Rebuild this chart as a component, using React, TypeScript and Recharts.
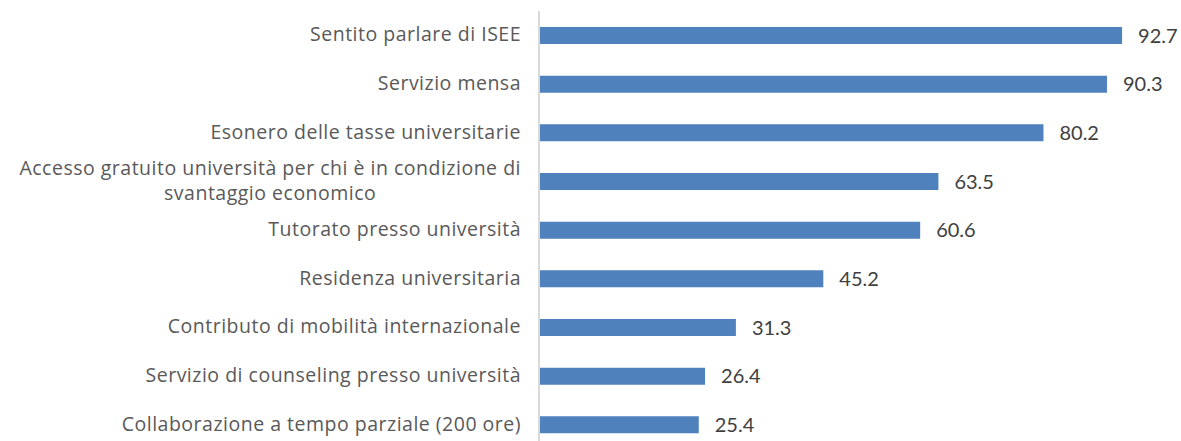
import { BarChart, Bar, XAxis, YAxis, LabelList } from "recharts";

const categories = [
  "Sentito parlare di ISEE",
  "Servizio mensa",
  "Esonero delle tasse universitarie",
  "Accesso gratuito università per chi è in condizione di svantaggio economico",
  "Tutorato presso università",
  "Residenza universitaria",
  "Contributo di mobilità internazionale",
  "Servizio di counseling presso università",
  "Collaborazione a tempo parziale (200 ore)",
];

const values = [92.7, 90.3, 80.2, 63.5, 60.6, 45.2, 31.3, 26.4, 25.4];

// label split lines for the long one (Excel wraps it)
const wrapped: Record<string, string[]> = {
  "Accesso gratuito università per chi è in condizione di svantaggio economico": [
    "Accesso gratuito università per chi è in condizione di",
    "svantaggio economico",
  ],
};

const data = categories.map((name, i) => ({ name, value: values[i] }));

const CAT_FONT = "'Open Sans', Lato, sans-serif";
const VAL_FONT = "Lato, 'Open Sans', sans-serif";
const LABEL_SIZE = 19.5;
const SPACING = 0.5;

function measure(text: string, size: number) {
  const c = document.createElement("canvas").getContext("2d");
  if (!c) return text.length * size * 0.5;
  c.font = `${size}px 'Open Sans'`;
  return c.measureText(text).width + text.length * SPACING;
}

function CategoryTick(props: any) {
  const { x, y, payload } = props;
  const lines = wrapped[payload.value];
  if (!lines) {
    return (
      <text
        x={x}
        y={y}
        dy={6}
        textAnchor="end"
        fill="#595959"
        fontSize={LABEL_SIZE}
        fontFamily={CAT_FONT}
        letterSpacing={SPACING}
      >
        {payload.value}
      </text>
    );
  }
  const w = Math.max(...lines.map((l) => measure(l, LABEL_SIZE)));
  const cx = x - w / 2;
  return (
    <g>
      {lines.map((l, i) => (
        <text
          key={i}
          x={cx}
          y={y - 6 + i * 25}
          textAnchor="middle"
          fill="#595959"
          fontSize={LABEL_SIZE}
          fontFamily={CAT_FONT}
          letterSpacing={SPACING}
        >
          {l}
        </text>
      ))}
    </g>
  );
}

export default function App() {
  return (
    <div style={{ position: "absolute", left: 0, top: 0, width: 1181, height: 441, overflow: "hidden", background: "#fff" }}>
      <BarChart
        width={1181}
        height={460}
        data={data}
        layout="vertical"
        margin={{ top: 11, right: 13, left: 0, bottom: 11 }}
        barCategoryGap={0}
      >
        <XAxis type="number" domain={[0, 100]} hide />
        <YAxis
          type="category"
          dataKey="name"
          width={539}
          axisLine={{ stroke: "#d9d9d9", strokeWidth: 2 }}
          tickLine={false}
          tickSize={10}
          tickMargin={8}
          interval={0}
          tick={<CategoryTick />}
        />
        <Bar dataKey="value" fill="#4f81bd" barSize={17} isAnimationActive={false}>
          <LabelList
            dataKey="value"
            position="right"
            offset={16}
            fill="#404040"
            fontSize={20}
            fontFamily={VAL_FONT}
            formatter={(v: any) => Number(v).toFixed(1)}
          />
        </Bar>
      </BarChart>
    </div>
  );
}
